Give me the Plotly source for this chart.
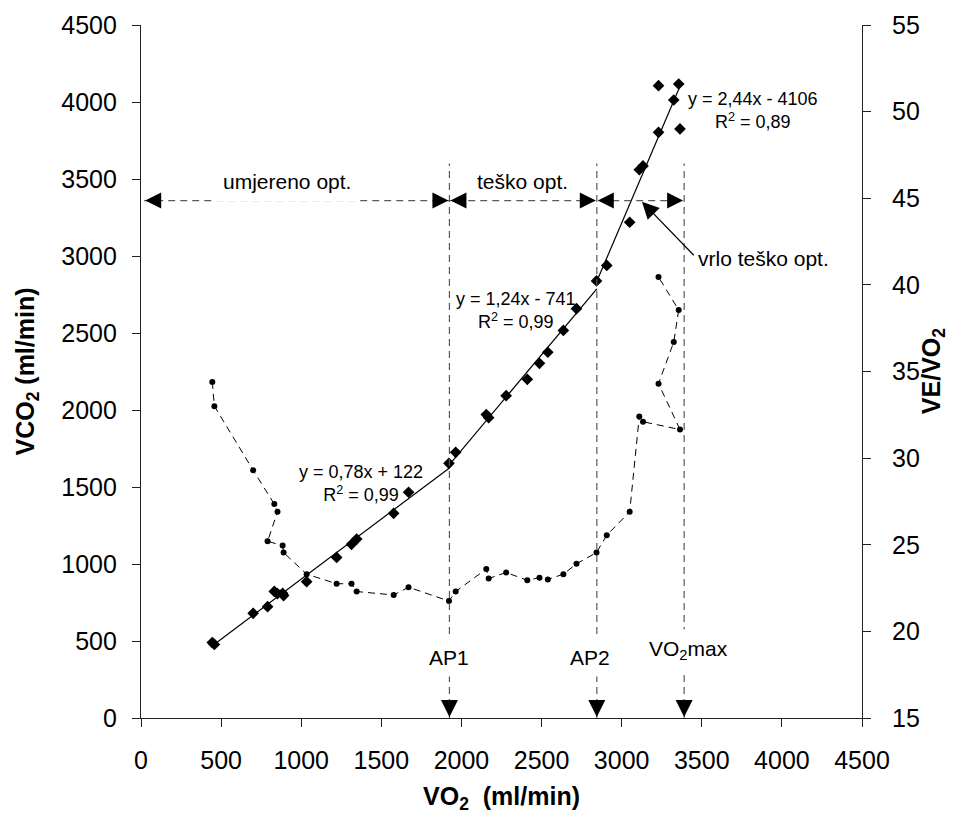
import plotly.graph_objects as go

# ---------------- data ----------------
vo2 = [445, 458, 700, 832, 852, 790, 884, 890, 1034, 1221, 1314, 1346, 1577, 1670,
       1922, 1964, 2155, 2170, 2279, 2411, 2487, 2539, 2636, 2718, 2843, 2907,
       3050, 3110, 3133, 3364, 3230, 3325, 3356, 3230]
vco2 = [490, 478, 680, 822, 808, 723, 810, 795, 885, 1043, 1128, 1162, 1329, 1466,
        1654, 1725, 1970, 1950, 2093, 2199, 2303, 2375, 2517, 2658, 2838, 2939,
        3219, 3560, 3585, 3825, 3803, 4013, 4117, 4106]
ve_vo2 = [34.4, 33.0, 29.3, 27.35, 26.9, 25.2, 24.95, 24.55, 23.3, 22.75, 22.75, 22.3,
          22.1, 22.55, 21.75, 22.3, 23.6, 23.05, 23.4, 22.95, 23.1, 23.0, 23.3, 23.9,
          24.55, 25.55, 26.9, 32.4, 32.1, 31.65, 34.3, 36.7, 38.55, 40.45]

# regression segments: slope, intercept, x-range
fit_slopes = [0.78, 1.24, 2.44]
fit_intercepts = [122, -741, -4106]
fit_breaks = [450, 1925, 2845, 3370]
fit_labels = ["y = 0,78x + 122<br>R<sup>2</sup> = 0,99",
              "y = 1,24x - 741<br>R<sup>2</sup> = 0,99",
              "y = 2,44x - 4106<br>R<sup>2</sup> = 0,89"]
fit_label_x = [1375, 2343, 3822]
fit_label_y = [1526, 2643, 3942]

# thresholds
thr_names = ["AP1", "AP2", "VO<sub>2</sub>max"]
thr_x = [1925, 2845, 3390]
thr_label_x = [1925, 2800, 3416]
thr_label_y = [396, 396, 442]
thr_top = 3600

zone_names = ["umjereno opt.", "teško opt.", "vrlo teško opt."]
zone_row_y = 3360
zone_start = 20
zone_label_x = [914, 2381, 3884]
zone_label_y = [3481, 3487, 2981]
vrlo_arrow_tip = (3127, 3352)
vrlo_arrow_tail = (3459, 2995)

x_ticks = list(range(0, 4501, 500))
y_ticks = list(range(0, 4501, 500))
y2_ticks = list(range(15, 56, 5))

FONT = "Liberation Sans, Arial, Helvetica, sans-serif"
AXC = "#222222"
DASHC = "#5a5a5a"

fig = go.Figure()

# trend line segments
for i in range(3):
    xs = [fit_breaks[i], fit_breaks[i + 1]]
    ys = [fit_slopes[i] * x + fit_intercepts[i] for x in xs]
    fig.add_trace(go.Scatter(x=xs, y=ys, mode="lines",
                             line=dict(color="black", width=1.2),
                             hoverinfo="skip", showlegend=False))

# VE/VO2 (right axis)
fig.add_trace(go.Scatter(x=vo2, y=ve_vo2, mode="lines+markers", yaxis="y2",
                         line=dict(color="black", width=1, dash="7px,5px"),
                         marker=dict(symbol="circle", size=6, color="black"),
                         name="VE/VO2", showlegend=False))

# VCO2 diamonds
fig.add_trace(go.Scatter(x=vo2, y=vco2, mode="markers",
                         marker=dict(symbol="diamond", size=9, color="black"),
                         name="VCO2", showlegend=False))

shapes = []
# vertical dashed threshold lines
for tx in thr_x:
    shapes.append(dict(type="line", xref="x", yref="y", x0=tx, x1=tx, y0=0, y1=thr_top,
                       line=dict(color=DASHC, width=1.2, dash="7px,5px")))
    # down arrowheads on the x axis
    shapes.append(dict(type="path", xref="x", yref="y", xsizemode="pixel", ysizemode="pixel",
                       xanchor=tx, yanchor=0, path="M0,1 L-8.5,18 L8.5,18 Z",
                       fillcolor="black", line=dict(width=0)))

# horizontal zone row
row_pts = [zone_start] + thr_x
shapes.append(dict(type="line", xref="x", yref="y", x0=row_pts[0], x1=row_pts[-1],
                   y0=zone_row_y, y1=zone_row_y,
                   line=dict(color=DASHC, width=1.2, dash="7px,5px")))
for i in range(len(row_pts) - 1):
    a, b = row_pts[i], row_pts[i + 1]
    shapes.append(dict(type="path", xref="x", yref="y", xsizemode="pixel", ysizemode="pixel",
                       xanchor=a, yanchor=zone_row_y, path="M1,0 L17,8 L17,-8 Z",
                       fillcolor="black", line=dict(width=0)))
    shapes.append(dict(type="path", xref="x", yref="y", xsizemode="pixel", ysizemode="pixel",
                       xanchor=b, yanchor=zone_row_y, path="M-1,0 L-17,8 L-17,-8 Z",
                       fillcolor="black", line=dict(width=0)))

annotations = []
for i in range(3):
    annotations.append(dict(x=fit_label_x[i], y=fit_label_y[i], xref="x", yref="y",
                            text=fit_labels[i], showarrow=False, align="center",
                            font=dict(family=FONT, size=18, color="black")))
for i in range(3):
    annotations.append(dict(x=thr_label_x[i], y=thr_label_y[i], xref="x", yref="y",
                            text=thr_names[i], showarrow=False, bgcolor="white",
                            borderpad=7,
                            font=dict(family=FONT, size=21, color="black")))
annotations.append(dict(x=zone_label_x[0], y=zone_label_y[0], xref="x", yref="y",
                        text=zone_names[0], showarrow=False, bgcolor="white", borderpad=8,
                        font=dict(family=FONT, size=21, color="black")))
annotations.append(dict(x=zone_label_x[1], y=zone_label_y[1], xref="x", yref="y",
                        text=zone_names[1], showarrow=False,
                        font=dict(family=FONT, size=21, color="black")))
annotations.append(dict(x=zone_label_x[2], y=zone_label_y[2], xref="x", yref="y",
                        text=zone_names[2], showarrow=False,
                        font=dict(family=FONT, size=21, color="black")))
annotations.append(dict(x=vrlo_arrow_tip[0], y=vrlo_arrow_tip[1], xref="x", yref="y",
                        ax=vrlo_arrow_tail[0], ay=vrlo_arrow_tail[1], axref="x", ayref="y",
                        text="", showarrow=True, arrowhead=2, arrowsize=2.8,
                        arrowwidth=1.2, arrowcolor="black", standoff=0, startstandoff=0))
# right axis title (placed as a rotated paper annotation so it is not clipped)
annotations.append(dict(x=1.098, y=0.5, xref="paper", yref="paper",
                        text="<b>VE/VO<sub>2</sub></b>", textangle=-90, showarrow=False,
                        xanchor="center", yanchor="middle", borderpad=0,
                        font=dict(family=FONT, size=25, color="black")))

tickfont = dict(family=FONT, size=25, color="black")
titlefont = dict(family=FONT, size=25, color="black")

# the page adds an 8 px body margin, so the figure is 8 px smaller and margins shifted
fig.update_layout(
    width=947, height=806,
    margin=dict(l=133, r=93, t=17, b=96, autoexpand=False),
    paper_bgcolor="white", plot_bgcolor="white",
    showlegend=False,
    shapes=shapes, annotations=annotations,
    xaxis=dict(range=[0, 4500], tickvals=x_ticks, ticks="outside", ticklen=8,
               tickcolor=AXC, showline=True, linecolor=AXC, linewidth=1.2,
               showgrid=False, zeroline=False, tickfont=tickfont, ticklabelstandoff=12,
               automargin=False,
               title=dict(text="<b>VO<sub>2</sub>  (ml/min)</b>", font=titlefont, standoff=18)),
    yaxis=dict(range=[0, 4500], tickvals=y_ticks, ticks="outside", ticklen=8,
               tickcolor=AXC, showline=True, linecolor=AXC, linewidth=1.2,
               showgrid=False, zeroline=False, tickfont=tickfont, ticklabelstandoff=10,
               automargin=False,
               title=dict(text="<b>VCO<sub>2</sub> (ml/min)</b>", font=titlefont, standoff=19)),
    yaxis2=dict(range=[15, 55], tickvals=y2_ticks, overlaying="y", side="right",
                ticks="outside", ticklen=8, tickcolor=AXC, showline=True, linecolor=AXC,
                linewidth=1.2, showgrid=False, zeroline=False, tickfont=tickfont,
                ticklabelstandoff=16, automargin=False),
    yaxis3=dict(range=[15, 55], tickvals=y2_ticks, overlaying="y", side="right",
                ticks="inside", ticklen=8, tickcolor=AXC, showline=False, automargin=False,
                showticklabels=False, showgrid=False, zeroline=False),
)

fig.write_html("out.html")
